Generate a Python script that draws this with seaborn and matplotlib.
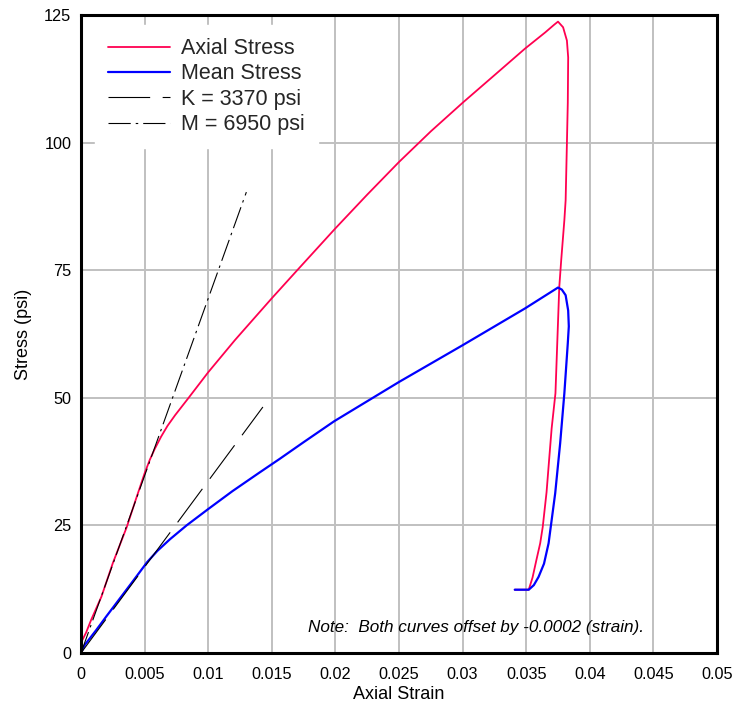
"""Axial and mean stress vs axial strain, with K and M modulus reference lines."""

import matplotlib

matplotlib.use("Agg")
import matplotlib.pyplot as plt
import pandas as pd
import seaborn as sns

sns.set_theme(style="white")
plt.rcParams["font.family"] = ["Liberation Sans", "DejaVu Sans"]
plt.rcParams["lines.scale_dashes"] = False

# Axial stress curve (strain, psi)
AXIAL_STRAIN = [0.0000, 0.0004, 0.0008, 0.0016, 0.0025, 0.0036, 0.0043, 0.0050,
                0.0054, 0.0058, 0.0063, 0.0068, 0.0074, 0.0084, 0.0100, 0.0121,
                0.0127, 0.0150, 0.0170, 0.0200, 0.0225, 0.0250, 0.0275, 0.0300,
                0.0325, 0.0349, 0.0365, 0.0372, 0.0375, 0.0379, 0.0382, 0.0383,
                0.03827, 0.0382, 0.0381, 0.0380, 0.03775, 0.0376, 0.0373, 0.0370,
                0.0368, 0.0366, 0.0363, 0.0361, 0.0358, 0.0355, 0.0352, 0.0341]
AXIAL_STRESS = [2.0, 4.0, 6.5, 11.0, 17.6, 24.7, 30.0, 35.2,
                37.8, 40.0, 42.4, 44.5, 46.6, 49.8, 55.0, 61.3,
                63.0, 69.5, 75.0, 83.2, 89.8, 96.2, 102.2, 107.8,
                113.2, 118.4, 121.6, 123.1, 123.7, 122.6, 120.0, 116.7,
                107.8, 99.8, 88.7, 84.8, 76.9, 71.7, 50.9, 44.0,
                37.8, 31.5, 24.7, 21.5, 18.2, 14.8, 12.4, 12.4]

# Mean stress curve
MEAN_STRAIN = [0.0000, 0.0003, 0.0012, 0.0020, 0.0030, 0.0040, 0.0052, 0.0060,
               0.0070, 0.0083, 0.0100, 0.0119, 0.0140, 0.0156, 0.0175, 0.0199,
               0.0250, 0.0300, 0.0349, 0.0375, 0.0378, 0.0381, 0.0383, 0.03835,
               0.03827, 0.0380, 0.03767, 0.03728, 0.03676, 0.0364, 0.03597,
               0.0356, 0.0352, 0.0341]
MEAN_STRESS = [0.0, 1.6, 4.5, 7.2, 10.5, 13.8, 17.8, 20.0,
               22.3, 25.0, 28.2, 31.7, 35.3, 38.0, 41.3, 45.4,
               53.1, 60.3, 67.5, 71.6, 71.2, 70.1, 67.1, 64.0,
               60.7, 50.9, 41.1, 31.3, 21.5, 17.5, 14.9,
               13.3, 12.4, 12.4]

# Modulus reference lines (end points)
K_STRAIN = [0.0, 0.0143]
K_STRESS = [0.0, 48.2]
M_STRAIN = [0.0, 0.0130]
M_STRESS = [0.0, 90.3]

X_TICKS = [0, 0.005, 0.01, 0.015, 0.02, 0.025, 0.03, 0.035, 0.04, 0.045, 0.05]
Y_TICKS = [0, 25, 50, 75, 100, 125]

RED = "#ff0050"
BLUE = "#0000ff"

fig = plt.figure(figsize=(7.36, 7.06), dpi=100)
ax = fig.add_axes([81 / 736, 53 / 706, 636 / 736, 638 / 706])

axial = pd.DataFrame({"strain": AXIAL_STRAIN, "stress": AXIAL_STRESS})
mean = pd.DataFrame({"strain": MEAN_STRAIN, "stress": MEAN_STRESS})
k_line = pd.DataFrame({"strain": K_STRAIN, "stress": K_STRESS})
m_line = pd.DataFrame({"strain": M_STRAIN, "stress": M_STRESS})

sns.lineplot(data=axial, x="strain", y="stress", sort=False, estimator=None,
             color=RED, lw=1.3, label="Axial Stress", ax=ax)
sns.lineplot(data=mean, x="strain", y="stress", sort=False, estimator=None,
             color=BLUE, lw=1.6, label="Mean Stress", ax=ax)
sns.lineplot(data=k_line, x="strain", y="stress", sort=False, estimator=None,
             color="black", lw=0.8, linestyle=(0, (30, 9)),
             label="K = 3370 psi", ax=ax)
sns.lineplot(data=m_line, x="strain", y="stress", sort=False, estimator=None,
             color="black", lw=0.8, linestyle=(0, (16, 3.6, 1.8, 3.6)),
             label="M = 6950 psi", ax=ax)

ax.set_xlim(0, 0.05)
ax.set_ylim(0, 125)
ax.set_xticks(X_TICKS)
ax.set_xticklabels([f"{v:g}" for v in X_TICKS])
ax.set_yticks(Y_TICKS)
ax.set_yticklabels([str(v) for v in Y_TICKS])
ax.tick_params(axis="x", length=0, pad=10, labelsize=11.7, colors="black")
ax.tick_params(axis="y", length=0, pad=7, labelsize=11.7, colors="black")
ax.grid(True, color="#c0c0c0", lw=1.4)
ax.set_axisbelow(True)
for sp in ax.spines.values():
    sp.set_color("black")
    sp.set_linewidth(2.2)

ax.set_xlabel("Axial Strain", fontsize=13, labelpad=3, color="black")
ax.set_ylabel("Stress (psi)", fontsize=13, labelpad=9, color="black")

ax.text(0.357, 0.033, "Note:  Both curves offset by -0.0002 (strain).",
        transform=ax.transAxes, fontsize=12.3, style="italic",
        ha="left", va="baseline", color="black")

leg = ax.legend(loc="upper left", bbox_to_anchor=(0.022, 0.984),
                borderaxespad=0, borderpad=0.6, fontsize=15.5,
                handlelength=2.9, handletextpad=0.5, labelspacing=0.2,
                frameon=True, fancybox=False, framealpha=1)
leg.get_frame().set_facecolor("white")
leg.get_frame().set_edgecolor("white")

fig.savefig("out.png", dpi=100)
